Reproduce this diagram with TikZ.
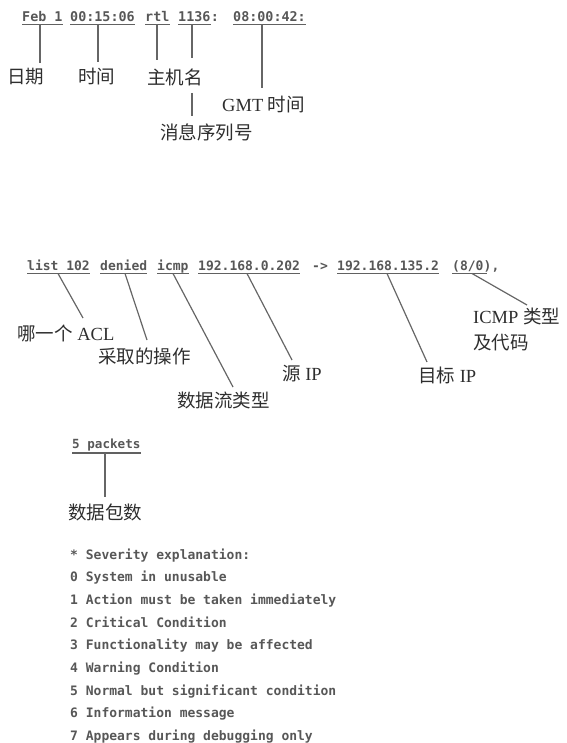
\documentclass[tikz,border=0pt]{standalone}
\usepackage{fontspec}
\setmainfont{Liberation Serif}
\newfontfamily\cjkf{Noto Sans CJK SC}
\newfontfamily\monof{DejaVu Sans Mono}
\newcommand\zhx[1]{{\cjkf #1}}
\usetikzlibrary{calc}
\begin{document}
\begin{tikzpicture}[x=1pt,y=-1pt,
  tok/.style={inner sep=0pt, anchor=base west, font=\monof\bfseries\fontsize{13}{16}\selectfont, text=black!66},
  toptok/.style={tok, font=\monof\bfseries\fontsize{13.4}{16}\selectfont},
  lab/.style={inner sep=0pt, anchor=west, font=\fontsize{18.5}{26}\selectfont, text=black!82},
  uline/.style={line width=1.6pt, draw=black!62},
  conn/.style={line width=1.2pt, draw=black!60},
  sev/.style={inner sep=0pt, anchor=base west, font=\monof\bfseries\fontsize{13}{16}\selectfont, text=black!66}]
\useasboundingbox (0,0) rectangle (566,743);

% ---------- top line ----------
\node[toptok] (feb)  at (22,21.5)  {Feb 1};
\node[toptok] (time) at (70,21.5)  {00:15:06};
\node[toptok] (host) at (145,21.5) {rtl};
\node[toptok] (seq)  at (178,21.5) {1136};
\node[toptok] (seqc) at (seq.base east) {:};
\node[toptok] (gmt)  at (233,21.5) {08:00:42:};
\foreach \n in {feb,time,host,seq,gmt}
  \draw[uline] ([yshift=-3pt]\n.base west) -- ([yshift=-3pt]\n.base east);

\node[lab] (riqi)  at (7,77)   {\zhx{日期}};
\node[lab] (shij)  at (78,77)  {\zhx{时间}};
\node[lab] (zhuj)  at (147,77) {\zhx{主机名}};
\node[lab] (gmtl)  at (222,105) {GMT \zhx{时间}};
\node[lab] (xulie) at (160,132) {\zhx{消息序列号}};

\coordinate (sfeb)  at ($(feb.base west)+(18,3)$);
\coordinate (stime) at ($(time.base west)+(28,3)$);
\coordinate (shost) at ($(host.base west)+(12,3)$);
\coordinate (sseq)  at ($(seq.base west)+(14,3)$);
\coordinate (sgmt)  at ($(gmt.base west)+(29,3)$);
\coordinate (gseqa) at (192,58);
\coordinate (gseqb) at (192,93);

\draw[conn, shorten >=5pt] (sfeb)  -- (sfeb |- riqi.north);
\draw[conn, shorten >=6pt] (stime) -- (stime |- shij.north);
\draw[conn, shorten >=8pt] (shost) -- (shost |- zhuj.north);
\draw[conn] (sseq) -- (gseqa);
\draw[conn, shorten >=7pt] (gseqb) -- (gseqb |- xulie.north);
\draw[conn, shorten >=8pt] (sgmt)  -- (sgmt |- gmtl.north);

% ---------- access-list line ----------
\node[tok] (acl)   at (27,270)  {list 102};
\node[tok] (act)   at (100,270) {denied};
\node[tok] (proto) at (157,270) {icmp};
\node[tok] (src)   at (198,270) {192.168.0.202};
\node[tok] (arrow) at (312,270) {->};
\node[tok] (dst)   at (337,270) {192.168.135.2};
\node[tok] (code)  at (452,270) {(8/0)};
\node[tok] (codec) at (code.base east) {,};
\foreach \n in {acl,act,proto,src,dst}
  \draw[uline] ([yshift=-3.5pt]\n.base west) -- ([yshift=-3.5pt]\n.base east);
\draw[uline] ([yshift=-3.5pt]code.base west) -- ([yshift=-3.5pt,xshift=-5pt]code.base east);

\node[lab] (lacl)   at (17,333)  {\zhx{哪一个} ACL};
\node[lab] (lact)   at (98,356)  {\zhx{采取的操作}};
\node[lab] (lproto) at (177,400) {\zhx{数据流类型}};
\node[lab] (lsrc)   at (282,374) {\zhx{源} IP};
\node[lab] (ldst)   at (418,375) {\zhx{目标} IP};
\node[lab, anchor=north west, align=left] (lcode) at (473,308) {ICMP \zhx{类型}\\\zhx{及代码}};

\coordinate (eacl)   at (83,318);
\coordinate (eact)   at (147,340);
\coordinate (eproto) at (233,387);
\coordinate (esrc)   at (292,360);
\coordinate (edst)   at (427,362);
\coordinate (ecode)  at (527,305);

\draw[conn] ($(acl.base west)+(31,3.5)$)   -- (eacl);
\draw[conn] ($(act.base west)+(25,3.5)$)   -- (eact);
\draw[conn] ($(proto.base west)+(16,3.5)$) -- (eproto);
\draw[conn] ($(src.base west)+(49,3.5)$)   -- (esrc);
\draw[conn] ($(dst.base west)+(50,3.5)$)   -- (edst);
\draw[conn] ($(code.base west)+(20,3.5)$)  -- (ecode);

% ---------- packets ----------
\node[tok, font=\monof\bfseries\fontsize{12.6}{16}\selectfont] (pk) at (72,448) {5 packets};
\draw[uline] ([yshift=-5pt]pk.base west) -- ([yshift=-5pt]pk.base east);
\node[lab] (lpk) at (68,512) {\zhx{数据包数}};
\coordinate (spk) at ($(pk.base west)+(33,5)$);
\draw[conn, shorten >=6pt] (spk) -- (spk |- lpk.north);

% ---------- severity list ----------
\node[sev] (s0) at (70,559)   {* Severity explanation:};
\node[sev] (s1) at (70,581.7) {0 System in unusable};
\node[sev] (s2) at (70,604.4) {1 Action must be taken immediately};
\node[sev] (s3) at (70,627.1) {2 Critical Condition};
\node[sev] (s4) at (70,649.8) {3 Functionality may be affected};
\node[sev] (s5) at (70,672.5) {4 Warning Condition};
\node[sev] (s6) at (70,695.2) {5 Normal but significant condition};
\node[sev] (s7) at (70,717.9) {6 Information message};
\node[sev] (s8) at (70,740.2) {7 Appears during debugging only};
\end{tikzpicture}
\end{document}
